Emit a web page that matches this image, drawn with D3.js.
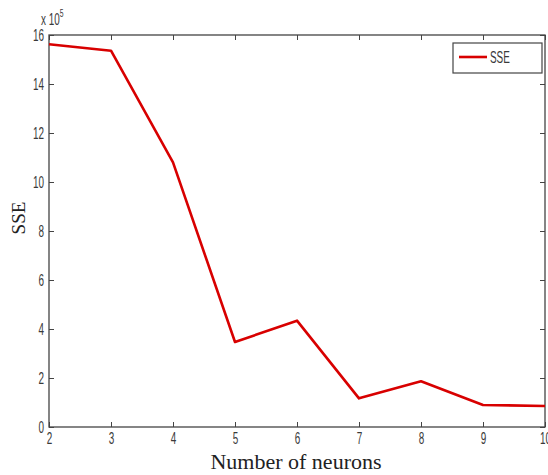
<!DOCTYPE html>
<html>
<head>
<meta charset="utf-8">
<script src="https://cdn.jsdelivr.net/npm/d3@7"></script>
<style>
  body { margin: 0; background: #fff; }
  .tick text, .narrow { font-family: "Liberation Sans", Arial, sans-serif; font-size: 16px; fill: #3a3a3a; }
</style>
</head>
<body>
<svg id="chart" width="548" height="475"></svg>
<script>
// neurons vs SSE (values in units of 10^5)
const neurons = [2, 3, 4, 5, 6, 7, 8, 9, 10]
const sse = [15.62, 15.36, 10.8, 3.47, 4.34, 1.17, 1.87, 0.9, 0.86]
const xTicks = [2, 3, 4, 5, 6, 7, 8, 9, 10]
const yTicks = [0, 2, 4, 6, 8, 10, 12, 14, 16]

const svg = d3.select("#chart")
const plotLeft = 49, plotRight = 545, plotTop = 35, plotBottom = 427
const frameColor = "#444"
const squeeze = 0.62   // tick labels in the original are a tall narrow face

const x = d3.scaleLinear().domain([2, 10]).range([plotLeft, plotRight])
const y = d3.scaleLinear().domain([0, 16]).range([plotBottom, plotTop])

// bottom axis, ticks pointing inward
const gx = svg.append("g")
  .attr("transform", "translate(0," + plotBottom + ")")
  .call(d3.axisBottom(x).tickValues(xTicks).tickSizeInner(-5).tickSizeOuter(0).tickPadding(4))
gx.select(".domain").remove()
gx.selectAll(".tick line").attr("stroke", frameColor)
gx.selectAll(".tick text").attr("y", 6).attr("transform", "scale(" + squeeze + ",1)")

// top mirror ticks
const gxt = svg.append("g")
  .attr("transform", "translate(0," + plotTop + ")")
  .call(d3.axisTop(x).tickValues(xTicks).tickSizeInner(-5).tickSizeOuter(0).tickFormat(""))
gxt.select(".domain").remove()
gxt.selectAll(".tick line").attr("stroke", frameColor)

// left axis
const gy = svg.append("g")
  .attr("transform", "translate(" + plotLeft + ",0)")
  .call(d3.axisLeft(y).tickValues(yTicks).tickSizeInner(-5).tickSizeOuter(0))
gy.select(".domain").remove()
gy.selectAll(".tick line").attr("stroke", frameColor)
gy.selectAll(".tick text").attr("x", -5 / squeeze).attr("transform", "scale(" + squeeze + ",1)")

// right mirror ticks
const gyr = svg.append("g")
  .attr("transform", "translate(" + plotRight + ",0)")
  .call(d3.axisRight(y).tickValues(yTicks).tickSizeInner(-5).tickSizeOuter(0).tickFormat(""))
gyr.select(".domain").remove()
gyr.selectAll(".tick line").attr("stroke", frameColor)

// box
svg.append("rect")
  .attr("x", plotLeft).attr("y", plotTop)
  .attr("width", plotRight - plotLeft).attr("height", plotBottom - plotTop)
  .attr("fill", "none").attr("stroke", frameColor).attr("stroke-width", 1.3)

// exponent label
const expo = svg.append("text")
  .attr("class", "narrow")
  .attr("transform", "translate(41,25) scale(" + squeeze + ",1)")
expo.append("tspan").text("x 10")
expo.append("tspan").attr("dy", -8).attr("font-size", 11).text("5")

// the line
const line = d3.line().x((d, i) => x(neurons[i])).y(d => y(d))
svg.append("path")
  .datum(sse)
  .attr("d", line)
  .attr("fill", "none")
  .attr("stroke", "#d80000")
  .attr("stroke-width", 2.6)
  .attr("stroke-linejoin", "round")

// legend
svg.append("rect")
  .attr("x", 453).attr("y", 43).attr("width", 89).attr("height", 30)
  .attr("fill", "#fff").attr("stroke", frameColor).attr("stroke-width", 1.2)
svg.append("line")
  .attr("x1", 459).attr("x2", 487).attr("y1", 57).attr("y2", 57)
  .attr("stroke", "#d80000").attr("stroke-width", 2.6)
svg.append("text")
  .attr("class", "narrow")
  .attr("transform", "translate(490,63) scale(" + squeeze + ",1)")
  .text("SSE")

// axis titles
svg.append("text")
  .attr("x", 296).attr("y", 469)
  .attr("text-anchor", "middle")
  .attr("font-family", "'Liberation Serif', 'Times New Roman', serif")
  .attr("font-size", 22).attr("fill", "#222")
  .text("Number of neurons")

svg.append("text")
  .attr("transform", "translate(25,218) rotate(-90)")
  .attr("text-anchor", "middle")
  .attr("font-family", "'Liberation Serif', 'Times New Roman', serif")
  .attr("font-size", 19).attr("fill", "#222")
  .text("SSE")
</script>
</body>
</html>
